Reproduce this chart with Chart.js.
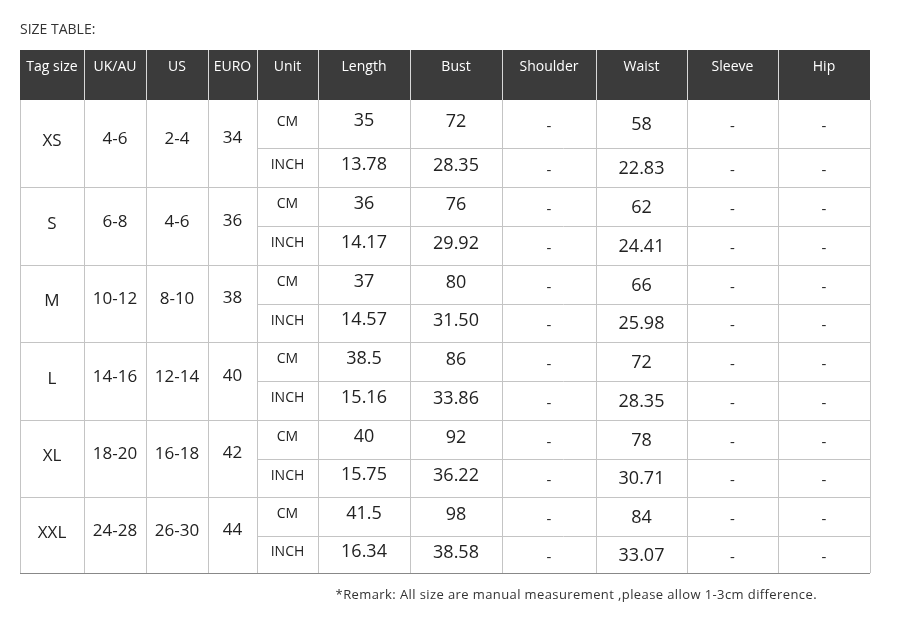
<!DOCTYPE html>
<html>
<head>
<meta charset="utf-8">
<script src="https://cdn.jsdelivr.net/npm/chart.js@4.4.0/dist/chart.umd.min.js"></script>
<style>
  html, body { margin: 0; padding: 0; background: #fff; }
  #wrap { width: 912px; height: 618px; position: relative; }
</style>
</head>
<body>
<div id="wrap"><canvas id="sizeChart"></canvas></div>
<script>
// Table data
const headers = ['Tag size', 'UK/AU', 'US', 'EURO', 'Unit', 'Length', 'Bust', 'Shoulder', 'Waist', 'Sleeve', 'Hip'];
const tagSizes = ['XS', 'S', 'M', 'L', 'XL', 'XXL'];
const ukau = ['4-6', '6-8', '10-12', '14-16', '18-20', '24-28'];
const us = ['2-4', '4-6', '8-10', '12-14', '16-18', '26-30'];
const euro = ['34', '36', '38', '40', '42', '44'];
const units = ['CM', 'INCH'];
const lengthCm = ['35', '36', '37', '38.5', '40', '41.5'];
const lengthInch = ['13.78', '14.17', '14.57', '15.16', '15.75', '16.34'];
const bustCm = ['72', '76', '80', '86', '92', '98'];
const bustInch = ['28.35', '29.92', '31.50', '33.86', '36.22', '38.58'];
const waistCm = ['58', '62', '66', '72', '78', '84'];
const waistInch = ['22.83', '24.41', '25.98', '28.35', '30.71', '33.07'];
const emptyMark = '-';

// Layout (in scale units = page pixels)
const colEdges = [20, 84, 146, 208, 257, 318, 410, 502, 596, 687, 778, 870];
const headTop = 50, headBottom = 100;
const groupEdges = [100, 187, 265, 342, 420, 497, 573];
const splitLines = [148, 226, 304, 381, 459, 536];

// Table drawn through the chart's own scales
const tablePlugin = {
  id: 'sizeTable',
  afterDraw(chart) {
    const ctx = chart.ctx;
    const xs = chart.scales.x, ys = chart.scales.y;
    const X = v => xs.getPixelForValue(v);
    const Y = v => ys.getPixelForValue(v);
    const mid = i => (colEdges[i] + colEdges[i + 1]) / 2;
    const bodyBottom = groupEdges[groupEdges.length - 1];
    ctx.save();

    // title
    ctx.fillStyle = '#333';
    ctx.font = '14px "Open Sans", sans-serif';
    ctx.textAlign = 'left';
    ctx.textBaseline = 'middle';
    ctx.fillText('SIZE TABLE:', X(20), Y(30));

    // header
    ctx.fillStyle = '#3b3b3b';
    ctx.fillRect(X(colEdges[0]), Y(headTop), X(colEdges[11]) - X(colEdges[0]), Y(headBottom) - Y(headTop));
    ctx.strokeStyle = '#d8d8d8';
    ctx.lineWidth = 1;
    for (let i = 1; i < colEdges.length - 1; i++) {
      ctx.beginPath();
      ctx.moveTo(X(colEdges[i]) + 0.5, Y(headTop));
      ctx.lineTo(X(colEdges[i]) + 0.5, Y(headBottom));
      ctx.stroke();
    }
    ctx.fillStyle = '#fff';
    ctx.font = '14px "Open Sans", sans-serif';
    ctx.textAlign = 'center';
    headers.forEach((h, i) => ctx.fillText(h, X(mid(i)), Y(67)));

    // grid
    ctx.strokeStyle = '#c4c4c4';
    const hline = (y, x0, x1) => {
      ctx.beginPath();
      ctx.moveTo(X(x0), Math.round(Y(y)) + 0.5);
      ctx.lineTo(X(x1), Math.round(Y(y)) + 0.5);
      ctx.stroke();
    };
    for (let g = 1; g < groupEdges.length - 1; g++) hline(groupEdges[g], colEdges[0], colEdges[11]);
    splitLines.forEach(y => hline(y, colEdges[4], colEdges[11]));
    for (let i = 0; i < colEdges.length; i++) {
      ctx.beginPath();
      ctx.moveTo(Math.round(X(colEdges[i])) + 0.5, Y(headBottom));
      ctx.lineTo(Math.round(X(colEdges[i])) + 0.5, Y(bodyBottom));
      ctx.stroke();
    }
    ctx.strokeStyle = '#888';
    hline(bodyBottom, colEdges[0], colEdges[11]);

    // body text
    ctx.fillStyle = '#222';
    for (let g = 0; g < tagSizes.length; g++) {
      const top = groupEdges[g], bot = groupEdges[g + 1], split = splitLines[g];
      const gm = (top + bot) / 2;
      ctx.font = '17px "Open Sans", sans-serif';
      ctx.fillText(tagSizes[g], X(mid(0)), Y(gm - 2));
      ctx.fillText(ukau[g], X(mid(1)), Y(gm - 4));
      ctx.fillText(us[g], X(mid(2)), Y(gm - 4));
      ctx.fillText(euro[g], X(mid(3)), Y(gm - 5));
      const rows = [
        [lengthCm[g], bustCm[g], waistCm[g]],
        [lengthInch[g], bustInch[g], waistInch[g]]
      ];
      const mids = [(top + split) / 2, (split + bot) / 2];
      for (let r = 0; r < 2; r++) {
        const rm = mids[r];
        ctx.font = '14px "Open Sans", sans-serif';
        ctx.fillText(units[r], X(mid(4)), Y(rm - 2));
        ctx.font = '18px "Open Sans", sans-serif';
        ctx.fillText(rows[r][0], X(mid(5)), Y(rm - 3));
        ctx.fillText(rows[r][1], X(mid(6)), Y(rm - 2));
        ctx.fillText(rows[r][2], X(mid(8)), Y(rm + 1));
        ctx.font = '15px "Open Sans", sans-serif';
        [7, 9, 10].forEach(c => ctx.fillText(emptyMark, X(mid(c)), Y(rm + 3)));
      }
    }

    // remark
    ctx.font = '13px "Open Sans", sans-serif';
    ctx.letterSpacing = '0.4px';
    ctx.textAlign = 'right';
    ctx.fillStyle = '#333';
    ctx.fillText('*Remark: All size are manual measurement ,please allow 1-3cm difference.', X(817), Y(595));
    ctx.restore();
  }
};

new Chart(document.getElementById('sizeChart').getContext('2d'), {
  type: 'scatter',
  data: { datasets: [{ data: [], pointRadius: 0 }] },
  options: {
    responsive: true,
    maintainAspectRatio: false,
    animation: false,
    layout: { padding: 0 },
    plugins: { legend: { display: false }, tooltip: { enabled: false } },
    scales: {
      x: { type: 'linear', min: 0, max: 912, display: false },
      y: { type: 'linear', min: 0, max: 618, reverse: true, display: false }
    }
  },
  plugins: [tablePlugin]
});
</script>
</body>
</html>
